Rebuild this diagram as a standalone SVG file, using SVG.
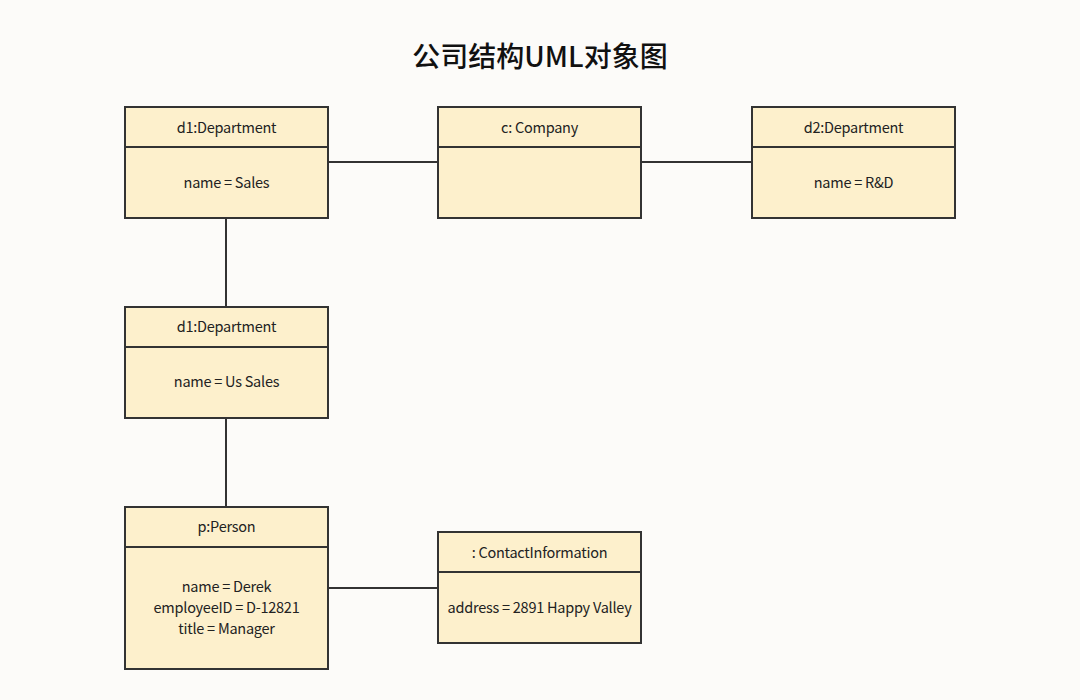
<svg xmlns="http://www.w3.org/2000/svg" width="1080" height="700" viewBox="0 0 1080 700">
<style>
.box{fill:#fdf0cc;stroke:#333;stroke-width:2}
.div{stroke:#333;stroke-width:2}
.t{font-family:"Noto Sans CJK SC","Noto Sans",sans-serif;font-size:14.5px;letter-spacing:-0.25px;fill:#222;text-anchor:middle}
.title{font-family:"Noto Sans CJK SC","Noto Sans",sans-serif;font-size:28px;font-weight:500;fill:#111;text-anchor:middle}
.c{stroke:#333;stroke-width:2;fill:none}
</style>
<rect width="1080" height="700" fill="#fcfbf9"/>
<text class="title" x="540" y="67">公司结构UML对象图</text>
<g id="connectors">
<line class="c" x1="328" y1="162" x2="438" y2="162"/>
<line class="c" x1="641" y1="162" x2="752" y2="162"/>
<line class="c" x1="226" y1="218" x2="226" y2="307"/>
<line class="c" x1="226" y1="418" x2="226" y2="507"/>
<line class="c" x1="328" y1="588" x2="438" y2="588"/>
</g>
<g id="d1">
<rect class="box" x="125" y="107" width="203" height="111"/>
<line class="div" x1="125" y1="147" x2="328" y2="147"/>
<text class="t" x="226.500" y="133">d1:Department</text>
<text class="t" x="226.500" y="188">name = Sales</text>
</g>
<g id="company">
<rect class="box" x="438" y="107" width="203" height="111"/>
<line class="div" x1="438" y1="147" x2="641" y2="147"/>
<text class="t" x="539.500" y="133">c: Company</text>
</g>
<g id="d2">
<rect class="box" x="752" y="107" width="203" height="111"/>
<line class="div" x1="752" y1="147" x2="955" y2="147"/>
<text class="t" x="853.500" y="133">d2:Department</text>
<text class="t" x="853.500" y="188">name = R&amp;D</text>
</g>
<g id="d1us">
<rect class="box" x="125" y="307" width="203" height="111"/>
<line class="div" x1="125" y1="347" x2="328" y2="347"/>
<text class="t" x="226.500" y="332">d1:Department</text>
<text class="t" x="226.500" y="387">name = Us Sales</text>
</g>
<g id="person">
<rect class="box" x="125" y="507" width="203" height="162"/>
<line class="div" x1="125" y1="547" x2="328" y2="547"/>
<text class="t" x="226.500" y="532">p:Person</text>
<text class="t" x="226.500" y="592">name = Derek</text>
<text class="t" x="226.500" y="613">employeeID = D-12821</text>
<text class="t" x="226.500" y="634">title = Manager</text>
</g>
<g id="contact">
<rect class="box" x="438" y="532" width="203" height="111"/>
<line class="div" x1="438" y1="572" x2="641" y2="572"/>
<text class="t" x="539.500" y="558">: ContactInformation</text>
<text class="t" x="539.500" y="613">address = 2891 Happy Valley</text>
</g>
</svg>
